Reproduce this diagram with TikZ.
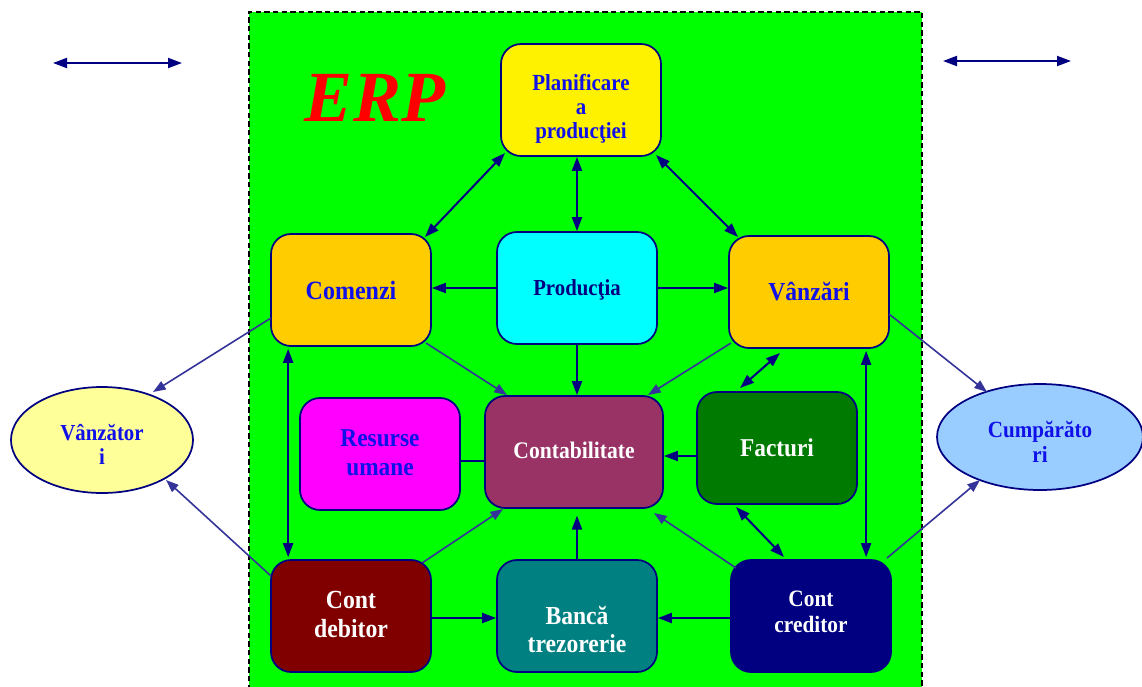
\documentclass[tikz,border=0pt]{standalone}
\usepackage{graphicx}
\usepackage{fontspec}
\setmainfont{Liberation Serif}
\usetikzlibrary{arrows.meta,shapes.geometric,calc}
\definecolor{navyc}{HTML}{000080}
\definecolor{linec}{HTML}{333399}
\definecolor{textblue}{HTML}{1010E8}
\definecolor{gfill}{HTML}{00FF00}
\definecolor{orangec}{HTML}{FFCC00}
\definecolor{cyanc}{HTML}{00FFFF}
\definecolor{magc}{HTML}{FF00FF}
\definecolor{contc}{HTML}{993366}
\definecolor{factc}{HTML}{007A00}
\definecolor{debc}{HTML}{800000}
\definecolor{bancc}{HTML}{008080}
\definecolor{credc}{HTML}{000080}
\definecolor{vtorc}{HTML}{FFFF99}
\definecolor{cumpc}{HTML}{99CCFF}
\newcommand{\shiftlines}[2]{\raisebox{#1}[\height][\depth]{\scalebox{1}[1.1]{\begin{tabular}{@{}c@{}}#2\end{tabular}}}}
\begin{document}
\begin{tikzpicture}[x=0.75pt,y=-0.75pt,
  box/.style={draw=navyc, line width=1.3pt, rounded corners=15pt,
    minimum width=120pt, minimum height=84pt, inner sep=0pt, align=center},
  oval/.style={ellipse, draw=navyc, line width=1.3pt, inner sep=0pt, align=center,
    minimum height=79.5pt},
  darr/.style={navyc, line width=1.5pt, {Triangle[length=10.5pt,width=7.5pt]}-{Triangle[length=10.5pt,width=7.5pt]}},
  arr/.style={navyc, line width=1.5pt, -{Triangle[length=10.5pt,width=7.5pt]}},
  lite/.style={linec, line width=1.2pt, -{Triangle[length=9.5pt,width=7pt]}},
  plain/.style={navyc, line width=1.5pt}
]
\useasboundingbox (0,0) rectangle (1142,686);
% background panel
\fill[gfill] (249,12) rectangle (922,690);
\draw[black, line width=1.2pt, dash pattern=on 4pt off 2.5pt] (249,690) -- (249,12) -- (922,12) -- (922,690);

% floating arrows
\coordinate (la1) at (53,63);
\coordinate (la2) at (182,63);
\coordinate (ra1) at (943,61);
\coordinate (ra2) at (1071,61);
\draw[darr] (la1) -- (la2);
\draw[darr] (ra1) -- (ra2);

% title
\node[text=red, font=\bfseries\itshape\fontsize{54}{54}\selectfont] (erp) at (375,98) {ERP};

% boxes
\node[box, fill=yellow, text=textblue, font=\bfseries\fontsize{15.7}{16.4}\selectfont] (plan) at (581,100) {\shiftlines{-7pt}{Planificare\\a\\producţiei}};
\node[box, fill=orangec, text=textblue, font=\bfseries\fontsize{18}{20}\selectfont] (com) at (351,290) {\shiftlines{-2.5pt}{Comenzi}};
\node[box, fill=cyanc, text=navyc, font=\bfseries\fontsize{15.6}{18}\selectfont] (prod) at (577,288) {\shiftlines{-1.5pt}{Producţia}};
\node[box, fill=orangec, text=textblue, font=\bfseries\fontsize{17.7}{20}\selectfont] (vanz) at (809,292) {\shiftlines{-2.3pt}{Vânzări}};
\node[box, fill=magc, text=textblue, font=\bfseries\fontsize{17.5}{19.8}\selectfont] (res) at (380,454) {\shiftlines{-0.7pt}{Resurse\\umane}};
\node[box, fill=contc, text=white, minimum width=133.5pt, font=\bfseries\fontsize{16.2}{19}\selectfont] (cont) at (574,452) {\shiftlines{-1pt}{Contabilitate}};
\node[box, fill=factc, text=white, font=\bfseries\fontsize{17.5}{20}\selectfont] (fact) at (777,448) {\shiftlines{-2.2pt}{Facturi}};
\node[box, fill=debc, text=white, font=\bfseries\fontsize{17.8}{19.8}\selectfont] (deb) at (351,616) {\shiftlines{-0.7pt}{Cont\\debitor}};
\node[box, fill=bancc, text=white, font=\bfseries\fontsize{17.7}{19.1}\selectfont] (banca) at (577,616) {\shiftlines{-12.5pt}{Bancă\\trezorerie}};
\node[box, fill=credc, text=white, font=\bfseries\fontsize{16}{17.7}\selectfont] (cred) at (811,616) {\shiftlines{1.5pt}{Cont\\creditor}};

% ellipses
\node[oval, fill=vtorc, text=textblue, minimum width=136.5pt, font=\bfseries\fontsize{15.6}{16.4}\selectfont] (vtor) at (102,440) {\shiftlines{-6pt}{Vânzător\\i}};
\node[oval, fill=cumpc, text=textblue, minimum width=154.5pt, font=\bfseries\fontsize{15.8}{17}\selectfont] (cump) at (1040,437) {\shiftlines{-6pt}{Cumpărăto\\ri}};

% connectors: dark
\draw[darr] ($(plan.center)+(-76,53)$) -- ($(com.center)+(74,-53)$);
\draw[darr] ($(plan.center)+(75,55)$) -- ($(vanz.center)+(-71,-55)$);
\draw[darr] (prod.north |- plan.south) -- (prod.north);
\draw[arr] (prod.west) -- (prod.west -| com.east);
\draw[arr] (prod.east) -- (prod.east -| vanz.west);
\draw[arr] (prod.south) -- (prod.south |- cont.north);
\draw[darr] ($(vanz.center)+(-29,61)$) -- ($(fact.center)+(-37,-60)$);
\draw[darr] ($(com.south west)+(18,2)$) -- ($(deb.north west)+(18,-2)$);
\draw[darr] ($(vanz.south west)+(138,2)$) -- ($(cred.north west)+(136,-2)$);
\draw[plain] ($(res.east)+(0,7)$) -- ($(cont.west)+(0,9)$);
\draw[arr] ($(fact.west)+(0,8)$) -- ($(cont.east)+(0,4)$);
\draw[arr, shorten >=5pt] (banca.north) -- (banca.north |- cont.south);
\draw[darr] ($(fact.center)+(-41,59)$) -- ($(cred.center)+(-27,-59)$);
\draw[arr] ($(deb.east)+(0,2)$) -- ($(banca.west)+(0,2)$);
\draw[arr] ($(cred.west)+(0,2)$) -- ($(banca.east)+(0,2)$);

% connectors: light
\draw[lite] ($(com.center)+(75,53)$) -- ($(cont.center)+(-67,-57)$);
\draw[lite] ($(vanz.center)+(-78,51)$) -- ($(cont.center)+(74,-57)$);
\draw[lite] ($(deb.center)+(71,-53)$) -- ($(cont.center)+(-71,57)$);
\draw[lite] ($(cred.center)+(-75,-48)$) -- ($(cont.center)+(80,61)$);
\draw[lite] ($(com.center)+(-80,28)$) -- ($(vtor.center)+(51,-48)$);
\draw[lite] ($(deb.center)+(-80,-40)$) -- ($(vtor.center)+(64,40)$);
\draw[lite] ($(vanz.center)+(80,22)$) -- ($(cump.center)+(-53,-45)$);
\draw[lite] ($(cred.center)+(76,-58)$) -- ($(cump.center)+(-60,43)$);
\end{tikzpicture}
\end{document}
